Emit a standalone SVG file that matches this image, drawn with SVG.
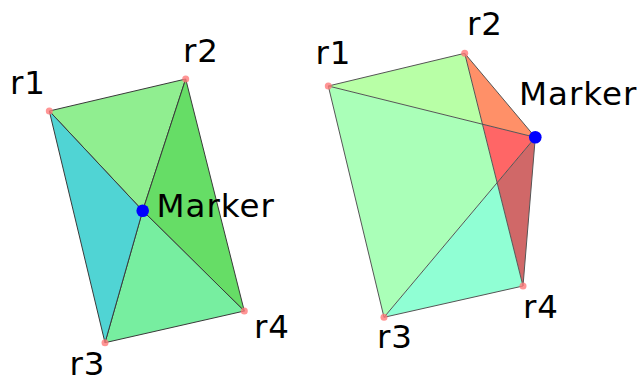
<svg xmlns="http://www.w3.org/2000/svg" width="638" height="383" viewBox="0 0 638 383">
<style>
.e{stroke:#3a3a3a;stroke-width:1;stroke-linejoin:round}
.v{fill:#ff7a7a;fill-opacity:0.8}
.m{fill:#0000ff}
.t{font-family:"DejaVu Sans",Verdana,sans-serif;font-size:32.5px;letter-spacing:1px;fill:#000}
</style>
<rect width="638" height="383" fill="#fff"/>
<g id="left">
<g id="left-faces">
<polygon class="e" points="49.3,111 185.7,79 142.7,210.7" fill="#90ee90"/>
<polygon class="e" points="185.7,79 244.3,311 142.7,210.7" fill="#66dd66"/>
<polygon class="e" points="105,342.7 244.3,311 142.7,210.7" fill="#77eea0"/>
<polygon class="e" points="49.3,111 105,342.7 142.7,210.7" fill="#50d4d4"/>
</g>
<g id="left-r1"><circle class="v" cx="49.3" cy="111" r="3.5"/><text class="t" x="10" y="94.3">r1</text></g>
<g id="left-r2"><circle class="v" cx="185.7" cy="79" r="3.5"/><text class="t" x="183" y="62.3">r2</text></g>
<g id="left-r3"><circle class="v" cx="105" cy="342.7" r="3.5"/><text class="t" x="69.5" y="374.5">r3</text></g>
<g id="left-r4"><circle class="v" cx="244.3" cy="311" r="3.5"/><text class="t" x="254" y="338.3">r4</text></g>
<g id="left-marker"><circle class="m" cx="142.7" cy="210.7" r="6.3"/><text class="t" x="156.5" y="216.7">Marker</text></g>
</g>
<g id="right">
<g id="right-faces">
<polygon points="328.3,86 464.7,53.3 482.5,124.2" fill="#b8ffa6"/>
<polygon points="464.7,53.3 535.3,137.3 482.5,124.2" fill="#ff9068"/>
<polygon points="482.5,124.2 535.3,137.3 497.1,182.7" fill="#ff6666"/>
<polygon points="497.1,182.7 535.3,137.3 523,286" fill="#d06868"/>
<polygon points="328.3,86 482.5,124.2 497.1,182.7 384,317.3" fill="#aaffb8"/>
<polygon points="384,317.3 497.1,182.7 523,286" fill="#90ffd4"/>
</g>
<g id="right-edges" fill="none" class="e" stroke="#555">
<polygon points="328.3,86 464.7,53.3 535.3,137.3 523,286 384,317.3" stroke="#555"/>
<line x1="328.3" y1="86" x2="535.3" y2="137.3" stroke="#555"/>
<line x1="464.7" y1="53.3" x2="523" y2="286" stroke="#555"/>
<line x1="384" y1="317.3" x2="535.3" y2="137.3" stroke="#555"/>
</g>
<g id="right-r1"><circle class="v" cx="328.3" cy="86" r="3.5"/><text class="t" x="315.5" y="64.3">r1</text></g>
<g id="right-r2"><circle class="v" cx="464.7" cy="53.3" r="3.5"/><text class="t" x="467" y="35">r2</text></g>
<g id="right-r3"><circle class="v" cx="384" cy="317.3" r="3.5"/><text class="t" x="377" y="348.3">r3</text></g>
<g id="right-r4"><circle class="v" cx="523" cy="286" r="3.5"/><text class="t" x="523" y="318.3">r4</text></g>
<g id="right-marker"><circle class="m" cx="535.3" cy="137.3" r="6.3"/><text class="t" x="519" y="105">Marker</text></g>
</g>
</svg>
